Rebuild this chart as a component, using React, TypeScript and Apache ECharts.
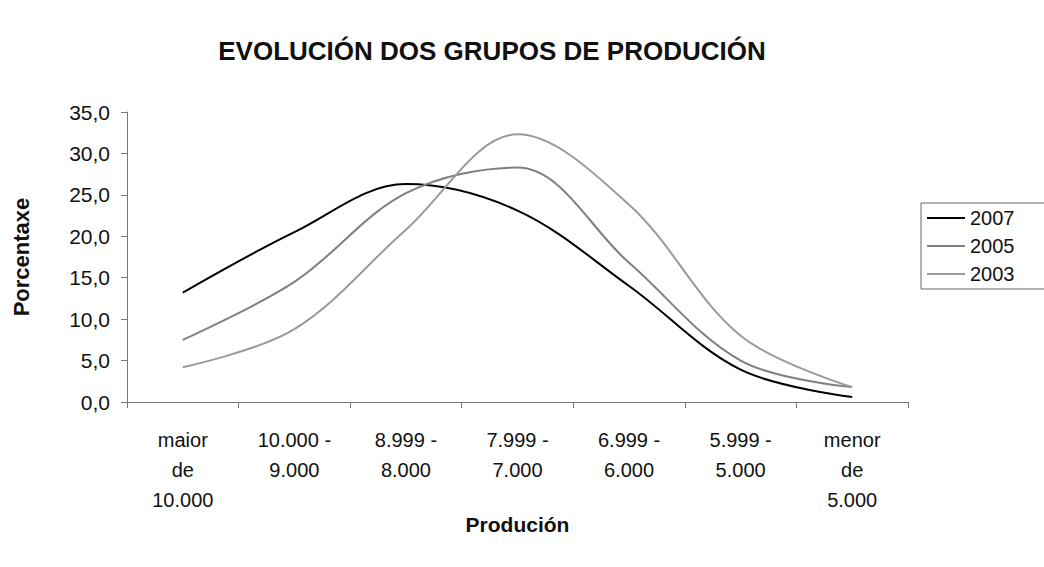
import React, { useEffect, useRef } from "react";
import * as echarts from "echarts";

const categories = [
  "maior\nde\n10.000",
  "10.000 -\n9.000",
  "8.999 -\n8.000",
  "7.999 -\n7.000",
  "6.999 -\n6.000",
  "5.999 -\n5.000",
  "menor\nde\n5.000",
];
const legendNames = ["2007", "2005", "2003"];
const s2007 = [13.2, 20.5, 26.3, 23.1, 14.0, 3.9, 0.6];
const s2005 = [7.5, 14.5, 25.2, 28.3, 16.8, 5.0, 1.8];
const s2003 = [4.2, 8.8, 20.8, 32.3, 23.8, 8.0, 1.8];

const font = "'Liberation Sans', Arial, sans-serif";

export default function App() {
  const ref = useRef<HTMLDivElement>(null);
  useEffect(() => {
    const chart = echarts.init(ref.current!, null, { renderer: "svg" });
    chart.setOption({
      animation: false,
      backgroundColor: "#ffffff",
      title: {
        text: "EVOLUCIÓN DOS GRUPOS DE PRODUCIÓN",
        left: 487,
        textAlign: "center",
        top: 33,
        textStyle: { fontFamily: font, fontSize: 26, fontWeight: "bold", color: "#111" },
      },
      legend: {
        orient: "vertical",
        left: 921,
        top: 203,
        icon: "rect",
        itemWidth: 38,
        itemHeight: 2,
        itemGap: 6,
        padding: [4, 40, 4, 6],
        borderColor: "#666",
        borderWidth: 1,
        textStyle: { fontFamily: font, fontSize: 20, color: "#111", lineHeight: 22 },
        data: legendNames,
      },
      grid: { left: 127, right: 136, top: 112, bottom: 165, containLabel: false },
      xAxis: {
        type: "category",
        data: categories,
        boundaryGap: true,
        name: "Produción",
        nameLocation: "middle",
        nameGap: 112,
        nameMoveOverlap: false,
        nameTextStyle: { fontFamily: font, fontSize: 21, fontWeight: "bold", color: "#111" },
        axisLine: { lineStyle: { color: "#777", width: 1 } },
        axisTick: { show: true, length: 6, lineStyle: { color: "#777" } },
        axisLabel: {
          fontFamily: font,
          fontSize: 20,
          color: "#111",
          lineHeight: 30,
          margin: 23,
          interval: 0,
        },
        splitLine: { show: false },
      },
      yAxis: {
        type: "value",
        min: 0,
        max: 35,
        interval: 5,
        name: "Porcentaxe",
        nameLocation: "middle",
        nameGap: 95,
        nameRotate: 90,
        nameTextStyle: { fontFamily: font, fontSize: 22, fontWeight: "bold", color: "#111" },
        axisLine: { show: true, lineStyle: { color: "#777", width: 1 } },
        axisTick: { show: true, length: 6, lineStyle: { color: "#777" } },
        axisLabel: {
          fontFamily: font,
          fontSize: 21,
          color: "#111",
          margin: 17,
          formatter: (v: number) => v.toFixed(1).replace(".", ","),
        },
        splitLine: { show: false },
      },
      series: [
        {
          name: "2007",
          type: "line",
          data: s2007,
          smooth: 0.35,
          symbol: "none",
          lineStyle: { color: "#000", width: 2 },
          itemStyle: { color: "#000" },
        },
        {
          name: "2005",
          type: "line",
          data: s2005,
          smooth: 0.35,
          symbol: "none",
          lineStyle: { color: "#808080", width: 2 },
          itemStyle: { color: "#808080" },
        },
        {
          name: "2003",
          type: "line",
          data: s2003,
          smooth: 0.35,
          symbol: "none",
          lineStyle: { color: "#9a9a9a", width: 2 },
          itemStyle: { color: "#9a9a9a" },
        },
      ],
    });
    return () => chart.dispose();
  }, []);
  return <div ref={ref} style={{ width: 1044, height: 567, position: "absolute", left: 0, top: 0 }} />;
}
